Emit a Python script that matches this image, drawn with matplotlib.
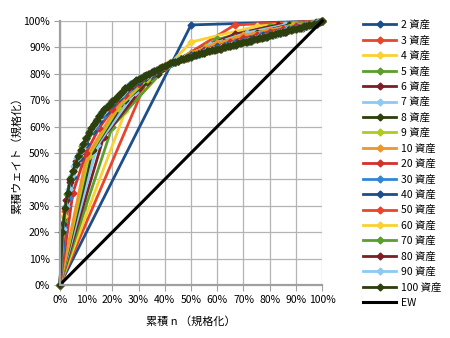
import numpy as np
import matplotlib
matplotlib.use("Agg")
import matplotlib.pyplot as plt
from matplotlib.ticker import FuncFormatter

plt.rcParams['font.family'] = ['Noto Sans CJK JP', 'DejaVu Sans']

# cumulative weight (%) at k/n, k = 0..n
w2 = [0, 98.5, 100]
w3 = [0, 78, 98.5, 100]
w4 = [0, 66, 92, 98, 100]
w5 = [0, 60, 82, 93, 98, 100]
w6 = [0, 56, 77, 88, 95, 98.5, 100]
w7 = [0, 53, 73, 84, 91, 95.5, 98.5, 100]
w8 = [0, 51, 70, 80, 87, 92, 95.5, 98.5, 100]
w9 = [0, 49, 67, 78, 85, 90, 93.5, 96, 98.5, 100]
w10 = [0, 48, 65, 76, 83, 88, 91.5, 94.5, 96.5, 98.5, 100]
w20 = [0, 35, 50, 59.5, 66.5, 72, 76, 79.5, 82.5, 85, 87, 89, 90.5, 92, 93.5,
       94.5, 96, 97, 98, 99, 100]
w30 = [0, 33, 46, 53, 60, 64.5, 68.5, 71.5, 74.5, 77, 79, 81, 83, 84.5, 85.5,
       87, 88, 89, 90, 91, 92, 92.5, 93.5, 94.5, 95, 96, 97, 97.5, 98.5, 99, 100]
w40 = [0, 30, 41, 48, 53.5, 58.5, 62, 65.5, 68.5, 71, 73.5, 75.5, 77, 78.5, 80,
       81.5, 83, 84, 85, 86, 87, 87.5, 88.5, 89, 90, 90.5, 91, 92, 92.5, 93,
       93.5, 94.5, 95, 95.5, 96, 97, 97.5, 98, 98.5, 99.5, 100]
w50 = [0, 28, 40, 46, 51, 55.5, 59.5, 62.5, 65.5, 67.5, 69.5, 71.5, 73.5, 75,
       76.5, 78, 79, 80, 81, 82, 83, 84, 84.5, 85.5, 86, 86.5, 87, 88, 88.5, 89,
       89.5, 90, 90.5, 91, 91.5, 92, 92.5, 93, 93.5, 94, 94.5, 95, 95.5, 96,
       96.5, 97, 97.5, 98, 98.5, 99, 100]
w60 = [0, 26, 36.5, 43, 48, 52, 55.5, 59, 61.5, 64, 66, 68, 69.5, 71, 72.5,
       74.5, 76, 77, 78, 79, 79.5, 80.5, 81.5, 82, 83, 84, 84.5, 85, 85.5, 86,
       86.5, 87, 87.5, 88, 88.5, 89, 89.5, 90, 90, 90.5, 91, 91.5, 92, 92.5,
       92.5, 93, 93.5, 94, 94.5, 95, 95.5, 96, 96.5, 96.5, 97, 97.5, 98, 98.5,
       99, 99.5, 100]
w70 = [0, 24, 34.5, 41, 45, 49, 52.5, 55.5, 58, 61, 63, 65, 66.5, 68, 69.5, 71,
       72.5, 73.5, 75, 76, 77, 78, 78.5, 79.5, 80, 81, 81.5, 82, 83, 83.5, 84.5,
       84.5, 85.5, 85.5, 86, 86.5, 87, 87.5, 88, 88.5, 88.5, 89, 89.5, 89.5, 90,
       90.5, 91, 91, 91.5, 92, 92, 92.5, 93, 93.5, 93.5, 94, 94.5, 94.5, 95,
       95.5, 96, 96.5, 96.5, 97, 97.5, 98, 98, 98.5, 99, 99.5, 100]
w80 = [0, 23, 32, 39, 43, 47, 50, 53, 55.5, 58, 60, 62, 64, 65.5, 67, 68, 69.5,
       70.5, 72, 73, 74.5, 75, 76, 77, 78, 78.5, 79, 80, 80.5, 81, 81.5, 82.5,
       83, 83.5, 84, 84.5, 85, 85.5, 85.5, 86, 86.5, 87, 87.5, 88, 88, 88.5, 89,
       89, 89.5, 89.5, 90, 90.5, 90.5, 91, 91.5, 91.5, 92, 92, 92.5, 93, 93,
       93.5, 94, 94, 94.5, 94.5, 95, 95.5, 96, 96, 96.5, 97, 97, 97.5, 97.5, 98,
       98.5, 98.5, 99, 99.5, 100]
w90 = [0, 21, 30, 36.5, 41.5, 45, 48, 50.5, 53, 55.5, 57.5, 59.5, 61, 63, 65,
       66, 67.5, 68.5, 69.5, 70.5, 71.5, 72.5, 73.5, 75, 76, 76.5, 77.5, 78,
       78.5, 79, 79.5, 80, 81, 81.5, 82, 82.5, 83, 83.5, 84, 84.5, 84.5, 85.5,
       85.5, 86, 86.5, 86.5, 87, 87, 87.5, 88, 88.5, 88.5, 89, 89, 89.5, 89.5,
       90, 90, 90.5, 91, 91, 91.5, 91.5, 92, 92, 92.5, 92.5, 93, 93.5, 93.5, 94,
       94, 94.5, 94.5, 95, 95.5, 95.5, 96, 96.5, 96.5, 97, 97, 97.5, 97.5, 98,
       98, 98.5, 99, 99, 99.5, 100]
w100 = [0, 20, 29, 35, 40, 43, 46, 49, 51, 53.5, 55.5, 57.5, 59.5, 61, 62.5, 64,
        65.5, 66.5, 67.5, 68.5, 69.5, 70.5, 71.5, 72.5, 73.5, 74.5, 75, 76, 76.5,
        77.5, 78, 78.5, 79, 79.5, 80, 80.5, 81, 81.5, 82, 82.5, 83, 83.5, 84,
        84.5, 84.5, 85, 85.5, 85.5, 86, 86.5, 86.5, 87, 87, 87.5, 88, 88, 88.5,
        88.5, 89, 89, 89.5, 89.5, 90, 90, 90.5, 90.5, 91, 91, 91.5, 91.5, 92, 92,
        92.5, 92.5, 93, 93, 93.5, 93.5, 94, 94, 94.5, 94.5, 95, 95.5, 95.5, 96,
        96, 96.5, 96.5, 97, 97, 97.5, 97.5, 98, 98, 98.5, 98.5, 99, 99, 99.5, 100]

series = [w2, w3, w4, w5, w6, w7, w8, w9, w10,
          w20, w30, w40, w50, w60, w70, w80, w90, w100]
labels = [f"{len(w) - 1} 資産" for w in series]
colors = ['#1c4e8c', '#e8452b', '#f8d231', '#5b9e2c', '#7c1e25', '#8ccaf4',
          '#2d3f0d', '#b0cb1f', '#f0952a',
          '#d5302a', '#2f86d6', '#1c4e8c', '#e8452b', '#f8d231', '#5b9e2c',
          '#7c1e25', '#8ccaf4', '#2d3f0d']

fig = plt.figure(figsize=(4.5, 3.38), dpi=100)
ax = fig.add_axes([0.133, 0.157, 0.583, 0.781])

for w, lab, c in zip(series, labels, colors):
    n = len(w) - 1
    x = np.arange(n + 1) / n
    ax.plot(x, np.array(w) / 100, color=c, lw=2.0, marker='D', ms=3.5,
            label=lab, clip_on=False)

ax.plot([0, 1], [0, 1], color='black', lw=2.2, label='EW', clip_on=False)

ax.set_xlim(0, 1)
ax.set_ylim(0, 1)
ticks = np.linspace(0, 1, 11)
ax.set_xticks(ticks)
ax.set_yticks(ticks)
pct = FuncFormatter(lambda v, p: f"{v * 100:.0f}%")
ax.xaxis.set_major_formatter(pct)
ax.yaxis.set_major_formatter(pct)
ax.tick_params(labelsize=7.5, length=4, color='#a0a0a0', pad=3)
ax.grid(True, color='#b4b4b4', lw=0.9)
ax.set_axisbelow(True)
for s in ['top', 'right']:
    ax.spines[s].set_visible(False)
for s in ['left', 'bottom']:
    ax.spines[s].set_color('#a0a0a0')
    ax.spines[s].set_linewidth(1.6)

ax.set_xlabel("累積 n （規格化）", fontsize=8, labelpad=8)
ax.set_ylabel("累積ウェイト（規格化）", fontsize=8, labelpad=1)

ax.legend(loc='upper left', bbox_to_anchor=(1.14, 1.02), frameon=False,
          fontsize=7.5, handlelength=3.2, handletextpad=0.4,
          labelspacing=0.5, borderaxespad=0)

fig.savefig("out.png", dpi=100)
